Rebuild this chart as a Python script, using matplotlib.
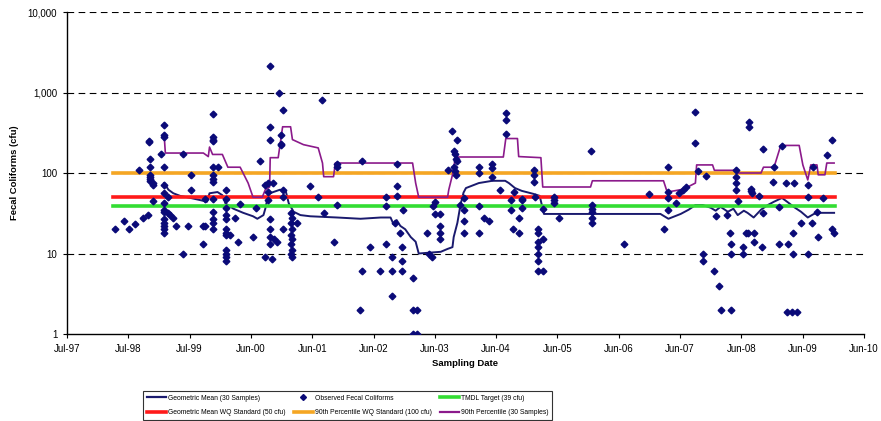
import datetime as dt
import matplotlib
matplotlib.use('Agg')
import matplotlib.pyplot as plt
from matplotlib.lines import Line2D
from matplotlib import font_manager

plt.rcParams['font.family'] = ['Liberation Sans', 'DejaVu Sans']

# Observed fecal coliform samples: sampling date (decimal year) and the cfu results taken that day
sample_years = [1998.28, 1998.43, 1998.50, 1998.61, 1998.67, 1998.74, 1998.82, 1998.83, 1998.85, 1998.90,
                1999.03, 1999.08, 1999.15, 1999.18, 1999.23, 1999.28, 1999.39, 1999.47, 1999.52, 1999.72,
                1999.74, 1999.87, 1999.96, 2000.09, 2000.16, 2000.24, 2000.29, 2000.32, 2000.53, 2000.58,
                2000.65, 2000.73, 2000.78, 2000.80, 2000.84, 2000.86, 2000.87, 2000.92, 2000.95, 2000.99,
                2001.01, 2001.02, 2001.14, 2001.17, 2001.25, 2001.46, 2001.59, 2001.66, 2001.68, 2001.84,
                2001.90, 2002.28, 2002.30, 2002.31, 2002.43, 2002.59, 2002.70, 2002.79, 2002.85, 2002.87,
                2002.88, 2002.93, 2002.95, 2002.98, 2003.14, 2003.21, 2003.37, 2003.39, 2003.45, 2003.47,
                2003.50, 2003.57, 2003.70, 2003.78, 2003.80, 2003.82, 2003.83, 2003.86, 2003.91, 2003.96,
                2004.21, 2004.29, 2004.37, 2004.43, 2004.56, 2004.65, 2004.73, 2004.76, 2004.79, 2004.87,
                2004.91, 2005.10, 2005.13, 2005.17, 2005.25, 2005.43, 2005.51, 2006.03, 2006.06, 2006.57,
                2006.99, 2007.22, 2007.30, 2007.43, 2007.48, 2007.53, 2007.59, 2007.74, 2007.78, 2007.86,
                2007.91, 2008.05, 2008.07, 2008.12, 2008.15, 2008.25, 2008.30, 2008.32, 2008.40, 2008.41,
                2008.43, 2008.52, 2008.56, 2008.59, 2008.62, 2008.64, 2008.66, 2008.69, 2008.77, 2008.83,
                2008.85, 2009.00, 2009.02, 2009.10, 2009.15, 2009.21, 2009.23, 2009.25, 2009.31, 2009.33,
                2009.34, 2009.39, 2009.46, 2009.57, 2009.64, 2009.65, 2009.72, 2009.74, 2009.82, 2009.88,
                2009.96, 2009.99]
sample_cfu = [[20], [25], [20], [23], [110], [28], [30], [250, 240], [150, 120, 95, 90, 85, 80], [75, 70, 45],
              [170], [400, 300, 280, 120, 70, 57, 42, 35, 33, 27, 24, 22, 20, 18], [50, 32], [30], [28], [22],
              [170, 10], [22], [95, 62], [22, 13],
              [22, 47], [540, 280, 260, 250, 120, 95, 85, 78, 47, 33, 27, 24, 20], [120],
              [62, 47, 37, 30, 27, 20, 18, 17, 11, 10, 9, 8], [17], [28], [14], [41], [16], [37],
              [140], [70, 9], [75, 58, 46], [2150, 370, 260, 27, 20, 16, 13], [8.5], [75], [15], [14], [1000],
              [300, 230, 220],
              [62, 50, 20], [600], [32, 24, 17, 13, 10], [28, 20, 15, 11, 9], [24], [69], [50], [800], [32], [14],
              [130, 120, 40], [2], [140], [6], [12], [6], [50, 39, 13], [9, 6, 3], [24], [69],
              [130, 52], [18], [12, 8, 6], [35], [5, 2, 1], [2, 1], [18], [10], [9], [39],
              [44, 31], [31, 22, 18, 15], [110], [330], [190, 120], [170, 105], [150, 95], [260, 140], [40],
              [49, 35, 25, 18],
              [120, 100, 39, 18], [28], [25], [130, 115, 90], [62], [550, 460, 305], [46, 35], [20], [58], [28, 18],
              [48, 46, 37], [108, 95, 78], [50], [20, 18, 14, 12, 10, 8, 6], [36, 15, 6], [50, 46, 42], [28], [190],
              [40, 36, 33, 28, 24], [13],
              [55], [20], [118, 58, 49, 35], [42], [57], [62], [67], [570, 235], [105], [10, 8],
              [92], [6], [29], [4], [2], [30], [18], [13, 10, 2], [108, 90], [75, 62],
              [45], [12, 10], [18], [18], [430, 375], [63, 60], [57], [18, 14], [52], [12],
              [200, 32], [78], [118], [38, 13], [215], [75], [1.9], [13], [1.9], [18, 10],
              [75], [1.9], [24], [71, 50, 10], [24], [118], [33], [16], [49], [168],
              [260, 20], [18]]

# Rolling geometric mean of 30 samples
gm_years = [1999.08, 1999.15, 1999.23, 1999.34, 1999.51, 1999.67, 1999.78, 1999.82, 1999.95, 2000.03,
            2000.08, 2000.21, 2000.37, 2000.53, 2000.60, 2000.70, 2000.73, 2000.78, 2000.86, 2000.97,
            2001.06, 2001.11, 2001.19, 2001.30, 2001.46, 2001.90, 2002.28, 2002.61, 2002.77, 2002.82,
            2002.87, 2002.93, 2003.01, 2003.10, 2003.18, 2003.23, 2003.59, 2003.70, 2003.78, 2003.80,
            2003.86, 2003.91, 2003.96, 2004.00, 2004.21, 2004.43, 2004.64, 2004.70, 2004.80, 2004.91,
            2005.10, 2005.20, 2005.27, 2007.17, 2007.30, 2007.50, 2007.63, 2007.74, 2007.86, 2007.99,
            2008.07, 2008.15, 2008.27, 2008.36, 2008.43, 2008.53, 2008.59, 2008.69, 2008.81, 2008.92,
            2009.02, 2009.15, 2009.25, 2009.34, 2009.46, 2009.57, 2009.67, 2009.78, 2010.00]
gm_cfu = [75, 62, 56, 52, 49, 46, 44, 56, 58, 53,
          42, 36, 32, 29, 27, 30, 36, 55, 58, 62,
          60, 42, 33, 30, 29, 28, 27, 28, 28, 23,
          26, 22, 20, 16, 14, 10, 10.5, 11.4, 12, 16,
          24, 40, 57, 65, 75, 80, 80, 75, 65, 60,
          55, 52, 31, 31, 27, 31, 35, 40, 40, 37,
          34, 38, 33, 36, 30, 34, 32, 28, 35, 40,
          44, 49, 43, 38, 33, 28, 31, 32, 32]

# Rolling 90th percentile of 30 samples
p90_years = [1999.08, 1999.10, 1999.72, 1999.80, 1999.82, 1999.87, 2000.03, 2000.12, 2000.32, 2000.45,
             2000.53, 2000.68, 2000.73, 2000.80, 2000.81, 2000.94, 2001.01, 2001.14, 2001.17, 2001.35,
             2001.59, 2001.66, 2001.68, 2001.84, 2001.87, 2003.13, 2003.18, 2003.23, 2003.70, 2003.72,
             2003.78, 2003.83, 2004.61, 2004.65, 2004.84, 2004.86, 2005.22, 2005.25, 2006.03, 2006.06,
             2007.22, 2007.28, 2007.50, 2007.63, 2007.74, 2007.76, 2008.02, 2008.05, 2008.40, 2008.43,
             2008.81, 2008.85, 2009.02, 2009.13, 2009.43, 2009.49, 2009.57, 2009.62, 2009.72, 2009.74,
             2009.85, 2009.88, 2010.00]
p90_cfu = [300, 177, 177, 160, 210, 170, 170, 118, 118, 75,
           50, 50, 62, 67, 155, 155, 375, 375, 260, 225,
           205, 133, 90, 90, 133, 133, 75, 50, 50, 62,
           95, 158, 158, 268, 268, 160, 155, 67, 67, 80,
           80, 58, 62, 68, 75, 126, 126, 108, 108, 100,
           100, 118, 118, 220, 220, 126, 82, 126, 126, 95,
           95, 133, 133]

# Water quality standards (cfu), drawn across the sampled period
std_span = [1998.25, 2010.01]
tmdl_target = 39
gm_standard = 50
p90_standard = 100

axis_start = dt.datetime(1997, 7, 1)
tick_step_days = 365
n_ticks = 14


def to_date(y):
    year = int(y)
    return dt.datetime(year, 1, 1) + dt.timedelta(days=(y - year) * 365.25)


obs_x, obs_y = [], []
for yr, vals in zip(sample_years, sample_cfu):
    for v in vals:
        obs_x.append(to_date(yr))
        obs_y.append(v)

fig = plt.figure(figsize=(8.81, 4.21), dpi=100)
ax = fig.add_axes([67 / 881, 87 / 421, 797 / 881, 322 / 421])

navy = '#1a1a6e'
span = [to_date(y) for y in std_span]

ax.plot([to_date(y) for y in gm_years], gm_cfu, color=navy, lw=1.4, zorder=3)
ax.plot(obs_x, obs_y, ls='none', marker='D', ms=3.4, color='#0a0a78', zorder=6)
ax.plot(span, [tmdl_target] * 2, color='#33dd33', lw=2.6, zorder=4)
ax.plot(span, [gm_standard] * 2, color='#ff1a1a', lw=2.6, zorder=4)
ax.plot(span, [p90_standard] * 2, color='#f5a623', lw=2.6, zorder=4)
ax.plot([to_date(y) for y in p90_years], p90_cfu, color='#8b1a8b', lw=1.2, zorder=5)

ax.set_yscale('log')
ax.set_ylim(1, 10000)
ax.set_yticks([1, 10, 100, 1000, 10000])
ax.set_yticklabels(['1', '10', '100', '1,000', '10,000'])
ax.minorticks_off()
for v in [10, 100, 1000, 10000]:
    ax.axhline(v, color='black', lw=0.8, ls=(0, (6, 4)), zorder=1)

ticks = [axis_start + dt.timedelta(days=tick_step_days * k) for k in range(n_ticks)]
ax.set_xlim(ticks[0], ticks[-1])
ax.set_xticks(ticks)
ax.set_xticklabels([t.strftime('%b-%y') for t in ticks])

ax.spines['top'].set_visible(False)
ax.spines['right'].set_visible(False)
ax.spines['left'].set_linewidth(1.0)
ax.spines['bottom'].set_linewidth(1.0)
ax.tick_params(axis='both', labelsize=7, length=3, width=0.8, direction='out', pad=4)

fig.text(465 / 881, 1 - 363 / 421, 'Sampling Date', ha='center', va='center',
         fontsize=6.8, fontweight='bold')
fig.text(15 / 881, 1 - 173 / 421, 'Fecal Coliforms (cfu)', ha='center', va='center',
         rotation=90, fontsize=6.8, fontweight='bold')

# legend text is narrow in the original
installed = {f.name for f in font_manager.fontManager.ttflist}
if 'Liberation Sans Narrow' in installed:
    leg_font = {'family': 'Liberation Sans Narrow', 'size': 5.7}
else:
    leg_font = {'family': 'Liberation Sans', 'size': 4.9}

handles = [
    Line2D([], [], color=navy, lw=1.6),
    Line2D([], [], color='#ff1a1a', lw=2.6),
    Line2D([], [], ls='none', marker='D', ms=3.0, color='#0a0a78'),
    Line2D([], [], color='#f5a623', lw=2.6),
    Line2D([], [], color='#33dd33', lw=2.6),
    Line2D([], [], color='#8b1a8b', lw=1.6),
]
labels = ['Geometric Mean (30 Samples)', 'Geometric Mean WQ Standard (50 cfu)',
          'Observed Fecal Coliforms', '90th Percentile WQ Standard (100 cfu)',
          'TMDL Target (39 cfu)', '90th Percentile (30 Samples)']
leg = fig.legend(handles, labels, loc='lower left', bbox_to_anchor=(143 / 881, 1 / 421),
                 ncol=3, prop=leg_font, frameon=True, fancybox=False,
                 handlelength=2.8, handletextpad=0.3, columnspacing=1.2, borderpad=0.55,
                 labelspacing=1.1, borderaxespad=0)
leg.get_frame().set_edgecolor('black')
leg.get_frame().set_linewidth(0.8)

fig.savefig('out.png', dpi=100)
